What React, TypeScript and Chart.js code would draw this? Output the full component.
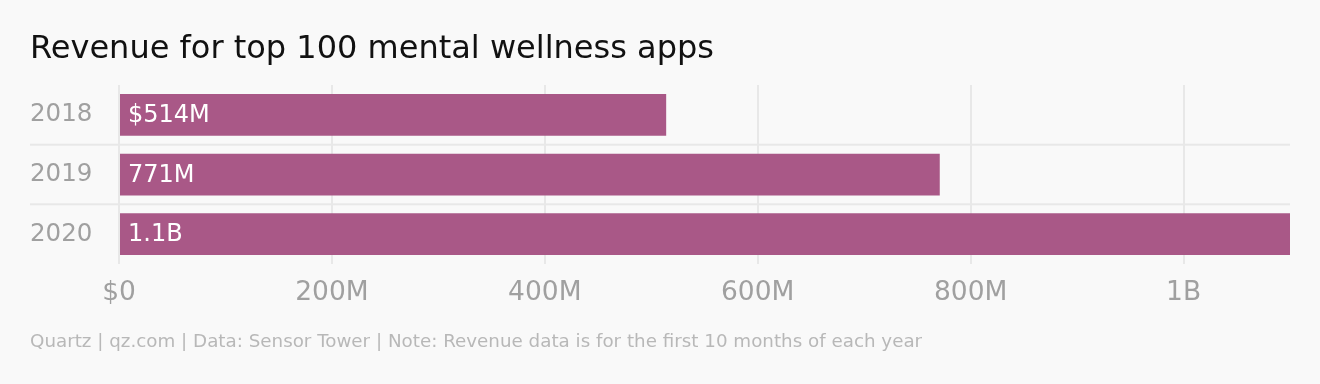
import React, { useEffect, useRef } from "react";
import { Chart, registerables } from "chart.js";

Chart.register(...registerables);

const categories = ["2018", "2019", "2020"];
const revenueMillions = [514, 771, 1100];
const barLabels = ["$514M", "771M", "1.1B"];
const tickValues = [0, 200, 400, 600, 800, 1000];
const tickLabels = ["$0", "200M", "400M", "600M", "800M", "1B"];

const TITLE = "Revenue for top 100 mental wellness apps";
const FOOTER =
  "Quartz | qz.com | Data: Sensor Tower | Note: Revenue data is for the first 10 months of each year";

const FONT = "'DejaVu Sans', sans-serif";
const BAR_COLOR = "#a95887";
const GRID_COLOR = "#e8e8e8";

const separatorPlugin = {
  id: "separators",
  beforeDatasetsDraw(chart: any) {
    const { ctx, chartArea } = chart;
    const y = chart.scales.y;
    ctx.save();
    ctx.strokeStyle = GRID_COLOR;
    ctx.lineWidth = 2;
    for (let i = 0; i < categories.length - 1; i++) {
      const p = (y.getPixelForValue(i) + y.getPixelForValue(i + 1)) / 2;
      ctx.beginPath();
      ctx.moveTo(30, p);
      ctx.lineTo(chartArea.right, p);
      ctx.stroke();
    }
    ctx.restore();
  },
};

const barLabelPlugin = {
  id: "barLabels",
  afterDatasetsDraw(chart: any) {
    const { ctx } = chart;
    const meta = chart.getDatasetMeta(0);
    ctx.save();
    ctx.fillStyle = "#ffffff";
    ctx.font = `24px ${FONT}`;
    ctx.textAlign = "left";
    ctx.textBaseline = "middle";
    meta.data.forEach((bar: any, i: number) => {
      ctx.fillText(barLabels[i], bar.base + 8, bar.y + 1);
    });
    ctx.restore();
  },
};

export default function App() {
  const ref = useRef<HTMLCanvasElement>(null);
  useEffect(() => {
    document.body.style.margin = "0";
    const chart = new Chart(ref.current!, {
      type: "bar",
      data: {
        labels: categories,
        datasets: [
          {
            data: revenueMillions,
            backgroundColor: BAR_COLOR,
            borderWidth: 0,
            barPercentage: 0.7,
            categoryPercentage: 1,
          },
        ],
      },
      options: {
        indexAxis: "y",
        animation: false,
        responsive: false,
        maintainAspectRatio: false,
        layout: { padding: { left: 30, right: 30, top: 0, bottom: 0 } },
        plugins: {
          legend: { display: false },
          tooltip: { enabled: false },
          title: {
            display: true,
            text: TITLE,
            align: "start",
            color: "#111111",
            font: { family: FONT, size: 32, weight: "normal", lineHeight: 1.2 },
            padding: { top: 30, bottom: 16.6 },
          },
          subtitle: {
            display: true,
            text: FOOTER,
            position: "bottom",
            align: "start",
            color: "#b8b8b8",
            font: { family: FONT, size: 18.3, weight: "normal", lineHeight: 1.2 },
            padding: { top: 9, bottom: 31 },
          },
        },
        scales: {
          x: {
            type: "linear",
            min: 0,
            max: 1100,
            afterBuildTicks(scale: any) {
              scale.ticks = tickValues.map((v) => ({ value: v }));
            },
            afterFit(scale: any) {
              scale.height = 58;
            },
            grid: { color: GRID_COLOR, lineWidth: 2, drawTicks: false },
            border: { display: false },
            ticks: {
              color: "#a0a0a0",
              font: { family: FONT, size: 26.5 },
              padding: 13,
              maxRotation: 0,
              callback(value: any) {
                const idx = tickValues.indexOf(Number(value));
                return idx >= 0 ? tickLabels[idx] : "";
              },
            },
          },
          y: {
            type: "category",
            afterFit(scale: any) {
              scale.width = 89;
            },
            grid: { display: false },
            border: { display: false },
            ticks: {
              color: "#a0a0a0",
              font: { family: FONT, size: 24.5 },
              crossAlign: "far",
              padding: 0,
            },
          },
        },
      },
      plugins: [separatorPlugin, barLabelPlugin],
    });
    return () => chart.destroy();
  }, []);
  return (
    <div style={{ width: 1320, height: 384, background: "#f9f9f9" }}>
      <canvas ref={ref} width={1320} height={384} style={{ display: "block" }} />
    </div>
  );
}
